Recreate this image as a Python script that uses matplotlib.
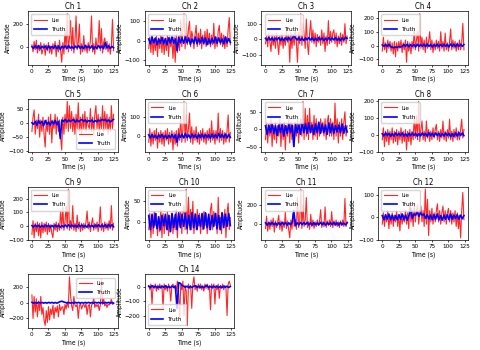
import numpy as np
import matplotlib
matplotlib.use("Agg")
import matplotlib.pyplot as plt

plt.rcParams['font.family'] = ['Liberation Sans Narrow', 'DejaVu Sans']
plt.rcParams['font.stretch'] = 'condensed'

# Lie / Truth amplitude traces per channel
lie_1 = [20,-40,50,-20,60,-50,10,-30,40,-60,-20,30,
         -70,20,-30,40,-50,10,-60,30,-20,50,
         -80,20,-40,60,-30,-130,40,-60,150,-20,
         290,-40,80,230,-30,170,-50,60,270,-20,
         40,200,-60,30,-40,100,-30,20,-50,40,
         -30,60,270,-40,30,-60,80,-20,40,230,
         -30,160,-50,40,80,-20,50,-40,30,-60,
         20,240,-30]
truth_1 = [5,-10,12,-8,15,-12,8,-5,10,-15,12,-10,6,-8,14,-12,10,-20,
           8,-6,12,-10,15,-8,5,-12,10,-6,14,-10,8,-12,15,-5,10,-8,12,-15,
           6,-10,14,-8,10,-12,40,-6,12,-10,8,-5]

lie_2 = [-40,20,-60,30,-70,10,-50,25,-80,15,-40,30,
         -60,20,-70,10,-50,30,-80,20,-30,10,
         -90,20,-110,30,-60,10,-50,110,-30,60,
         140,-40,90,-20,60,100,-30,50,20,-40,
         30,80,-30,40,-20,60,-40,30,-20,50,
         -30,60,-20,40,-30,30,-20,90,-40,20,
         -30,50,80,-20,40,-30,30,-40,20,-30,
         60,120,-20]
truth_2 = [10,-15,20,-10,15,-20,10,-12,18,-15,12,-20,15,-10,20,-12,10,-50,
           20,-10,15,-12,20,-10,15,-18,10,-12,20,-15,10,-10,18,-12,15,-20,
           10,-15,12,-10,20,-12,15,-10,10,-15,20,-10,12,-8]

lie_3 = [-30,20,-50,40,-20,-80,30,-40,20,-60,40,-30,
         -100,20,-40,30,-60,10,-40,50,-20,30,
         -150,40,-60,30,-40,60,-20,-150,40,-30,
         165,-40,100,30,-60,130,-30,-100,40,120,
         -20,60,-30,40,-50,30,-20,20,-40,60,
         -30,40,-80,20,-40,120,-30,50,-20,40,
         60,-30,40,-50,20,-30,40,-40,30,-20,
         100,-30,20]
truth_3 = [5,-8,10,-6,8,-10,6,-5,10,-8,6,-10,8,-6,10,-8,5,20,
           8,-6,10,-8,6,-10,8,-5,10,-6,8,-10,6,-8,10,-5,8,-10,6,-8,
           10,-6,8,-5,10,-8,6,-10,8,-6,12,5]

lie_4 = [-40,60,-30,20,-50,40,-20,30,-40,20,-60,30,
         -80,20,-40,30,-20,40,-50,20,-30,40,
         -120,30,-40,20,-60,30,-20,120,-30,40,
         100,-40,230,-20,60,-30,40,-50,60,-20,
         30,100,-30,40,-50,20,-30,40,-20,30,
         -40,100,-20,30,-40,90,-30,20,-40,30,
         120,-30,40,-20,30,-40,20,-30,40,-30,
         20,160,-30]
truth_4 = [5,-5,8,-6,10,-8,-12,-15,-10,-12,-8,-10,-5,8,-6,10,-8,6,
           -5,8,-10,10,-6,8,-5,10,-8,12,-6,8,-10,6,-5,10,-8,8,-6,10,
           -5,8,-10,12,-6,10,-8,12,-5,10,-6,8]

lie_5 = [-30,20,45,-40,10,-20,30,-50,10,-30,20,-40,
         -85,10,-30,20,-40,30,-70,10,-20,30,
         -40,20,-30,10,-50,-95,20,-40,30,-20,
         75,-30,60,-20,40,-30,20,-40,30,-20,
         70,-30,20,-40,30,-20,40,-30,20,-10,
         -20,50,-30,20,-40,30,60,-20,30,-30,
         20,-20,60,-30,40,-20,30,-40,20,-30,
         60,-20,30]
truth_5 = [0,-5,5,-8,8,-3,5,-10,8,-5,3,-8,6,-4,8,-6,5,-55,
           10,5,12,3,10,5,8,12,2,10,4,8,12,5,10,3,8,5,10,2,
           8,4,10,6,12,8,12,5,10,3,8,12]

lie_6 = [-30,40,-50,20,-40,30,-20,40,-60,20,-30,30,
         -40,20,-50,30,-20,40,-40,20,-30,30,
         -70,20,-40,30,-50,40,-20,100,-30,40,
         180,-30,110,-20,40,120,-30,50,-40,30,
         -20,50,-30,20,-40,30,-20,40,-30,20,
         -40,30,-20,40,-30,80,-20,30,-40,30,
         -20,120,-30,40,-20,30,-40,20,-30,30,
         110,-30,20]
truth_6 = [8,-8,10,-6,5,-10,8,-5,10,-8,6,-10,5,-6,10,-8,8,-30,
           12,-5,10,-8,15,-6,8,-10,12,-5,8,-10,10,-6,12,-8,10,-5,8,-10,
           12,-6,10,-8,15,-5,10,-6,12,-8,10,-5]

lie_7 = [-30,20,-40,10,-20,30,-50,10,-30,20,-40,10,
         -20,30,-50,10,-30,20,-60,10,-20,30,
         -40,20,-30,10,-50,20,-20,30,-40,10,
         30,-20,80,-30,60,-20,40,-30,60,-10,
         20,-30,40,-20,30,-30,20,-20,30,-10,
         20,-20,30,-30,20,40,-20,30,-20,20,
         -30,75,-20,30,-40,20,-20,30,-30,20,
         50,-20,10]
truth_7 = [10,-15,12,-10,15,-12,10,-18,12,-10,15,-20,10,-12,15,-10,12,-50,
           15,-10,12,-15,20,-10,15,-12,18,-10,12,-15,15,-10,20,-12,15,-10,
           12,-15,18,-10,15,-12,10,-8,12,-10,15,-12,10,-8]

lie_8 = [-30,40,-70,20,-40,30,-60,20,-30,40,-50,20,
         -40,30,-60,20,-30,40,-50,20,-40,30,
         -90,20,-40,30,-60,20,-30,100,-20,110,
         -30,195,-40,30,80,-30,20,-40,80,-20,
         30,-40,20,-30,40,-20,30,60,-30,20,
         -40,30,-20,80,-30,20,-40,30,-20,90,
         -30,20,-40,30,-20,40,-30,20,-30,30,
         90,-20,30]
truth_8 = [5,-8,10,-5,8,-10,6,-8,10,-5,8,-6,10,-8,5,-10,8,-6,
           10,-5,8,-10,6,-8,10,-5,8,-10,12,-6,8,-10,10,-5,8,-10,6,-8,
           10,-5,8,-12,6,-10,10,-8,12,-5,10,-6]

lie_9 = [-60,40,-85,20,-40,30,-70,20,-85,30,-50,20,
         -40,30,-60,20,-40,10,-50,-85,20,-30,
         30,-40,20,-30,120,-20,140,-30,30,150,
         -20,270,-30,40,-20,150,-30,20,-40,80,
         -20,30,-40,20,-30,20,-20,30,110,-20,
         30,-40,20,60,-30,20,-20,30,-40,20,
         140,-30,20,-40,30,-20,20,-30,40,-20,
         150,-30,20]
truth_9 = [3,-6,8,-4,6,-8,5,-6,8,-4,6,-8,5,-6,8,-5,6,-8,
           4,-6,8,-5,10,-6,8,-5,6,-8,10,-4,8,-6,5,-8,10,-5,6,-8,
           8,-4,10,-6,8,-5,10,-8,12,-6,10,-5]

lie_10 = [-20,20,-40,15,-30,25,-10,20,-35,10,-25,30,
          -40,20,-30,10,-20,25,-35,15,-25,20,
          -30,10,-20,30,-40,20,-10,25,-30,20,
          40,-20,80,-30,60,-10,30,-20,50,-30,
          20,-20,30,-10,20,-30,10,-20,25,-10,
          20,-30,10,-20,30,45,-20,25,-10,20,
          -30,60,-20,10,-30,20,-10,30,-40,20,
          45,-20,10]
truth_10 = [15,-20,18,-15,20,-18,12,-20,15,-10,18,-20,15,-25,20,-15,18,-20,
            22,-15,18,-12,20,-18,15,-20,22,-15,18,-20,15,-12,20,-18,22,-15,
            18,-20,15,-12,20,-18,15,-20,22,-15,18,-12,20,-10]

lie_11 = [-50,80,-80,20,-60,40,-30,60,-90,30,-40,20,
          90,-60,30,-80,20,-40,120,-50,30,-60,
          -150,40,-60,110,-30,40,-60,280,-40,30,
          370,-50,200,-30,40,280,-40,20,-60,100,
          -30,40,-50,20,-30,40,-20,30,150,-40,
          20,-30,180,-40,30,-20,40,-30,130,-40,
          30,-20,40,-30,20,-40,30,-20,40,-30,
          270,-30,20]
truth_11 = [10,-15,12,-10,15,-12,8,-15,10,-12,15,-8,12,-15,10,-12,15,140,
            -20,10,-12,15,-10,12,-8,15,-12,10,-15,12,-10,8,-12,15,-10,12,
            -15,10,-8,12,-10,15,-12,10,-15,12,-10,8,-12,10]

lie_12 = [-30,20,-40,10,-20,30,-50,10,-30,20,-40,10,
          -20,30,-40,10,-60,20,-30,10,-20,30,
          -30,20,-50,60,-20,30,-40,60,-20,30,
          55,-30,20,50,-20,30,-40,125,-30,80,
          -80,30,-20,40,-30,20,-20,30,60,-20,
          30,-30,20,50,-20,30,-30,20,40,-20,
          30,-30,20,-20,30,-40,20,-50,10,-90,
          30,110,-10]
truth_12 = [8,-10,12,-8,15,-10,10,-12,8,-10,12,-8,15,-10,10,-12,8,40,
            -5,15,10,25,5,20,10,15,-5,12,-8,10,-10,12,-8,15,-10,8,-12,10,
            -8,12,-10,15,-8,10,-5,12,-8,10,-6,8]

lie_13 = [100,-200,80,-120,50,-180,20,-100,80,-150,-60,-220,
          -290,-100,-250,-50,-220,-80,-150,-30,-200,-60,
          -120,-40,-180,-20,-100,-60,-50,-150,-20,-80,
          10,-60,330,100,-40,-100,80,-30,-50,-20,
          -200,-40,-10,-80,-30,-20,-60,-10,-150,-40,
          -20,-180,-30,-10,60,-60,-20,-50,-20,-100,
          -30,300,-20,50,-40,-10,-60,-20,-30,-10,
          50,-20,-10]
truth_13 = [5,-5,3,-5,5,-3,5,-5,3,-5,5,-3,5,-5,3,-5,5,15,
            20,10,5,-3,5,-5,3,-5,5,-3,5,-5,3,-5,5,-3,5,-5,3,-5,
            5,-3,5,-5,3,-5,5,-3,5,-5,3,-5]

lie_14 = [10,-20,20,-120,10,-10,20,-30,10,-20,20,-10,
          10,-150,20,-20,10,-30,20,-10,-100,10,
          20,-10,10,-30,40,-20,-220,10,-20,40,
          -200,10,-30,-270,20,-10,10,-150,20,70,
          -20,10,-30,20,-10,20,-20,10,-30,20,
          -10,20,-20,10,-160,20,-10,20,-120,10,
          -20,20,-80,10,-10,20,-20,10,-10,-200,
          20,40,10]
truth_14 = [5,-5,8,-3,5,-5,3,-5,5,-3,8,-5,3,-5,5,-3,5,-150,
            30,25,10,5,-3,5,-5,3,-5,5,8,-3,5,-5,3,-5,5,10,-5,3,
            -5,5,-3,5,-5,3,-5,5,-3,5,-5,3]

lies = [lie_1, lie_2, lie_3, lie_4, lie_5, lie_6, lie_7,
        lie_8, lie_9, lie_10, lie_11, lie_12, lie_13, lie_14]
truths = [truth_1, truth_2, truth_3, truth_4, truth_5, truth_6, truth_7,
          truth_8, truth_9, truth_10, truth_11, truth_12, truth_13, truth_14]
legend_loc = ["upper left"] * 14
legend_loc[4] = "lower right"
legend_loc[12] = "upper right"
legend_loc[13] = "lower left"

t_end = 124  # 記録の長さ (s)

fig, axes = plt.subplots(4, 4, figsize=(4.8, 3.5), dpi=100)
fig.subplots_adjust(left=0.058, right=0.975, top=0.968, bottom=0.063,
                    wspace=0.3, hspace=0.64)

for k, ax in enumerate(axes.flat):
    if k >= len(lies):
        ax.axis("off")
        continue
    lie = np.array(lies[k])
    tru = np.array(truths[k])
    ax.plot(np.linspace(0, t_end, len(lie)), lie, color="red", lw=0.8,
            alpha=0.85, label="Lie")
    ax.plot(np.linspace(0, t_end, len(tru)), tru, color="blue", lw=1.2,
            label="Truth")
    ax.set_title("Ch %d" % (k + 1), fontsize=5.6, pad=1.2)
    ax.set_xlabel("Time (s)", fontsize=4.8, labelpad=1.5)
    ax.set_ylabel("Amplitude", fontsize=4.8, labelpad=1.5)
    ax.set_xticks([0, 25, 50, 75, 100, 125])
    ax.tick_params(labelsize=4.6, length=1.5, width=0.5, pad=1.5)
    for s in ax.spines.values():
        s.set_linewidth(0.5)
    ax.legend(loc=legend_loc[k], fontsize=4.5, handlelength=2.0,
              borderpad=0.5, labelspacing=0.6)

fig.savefig("out.png", dpi=100)
